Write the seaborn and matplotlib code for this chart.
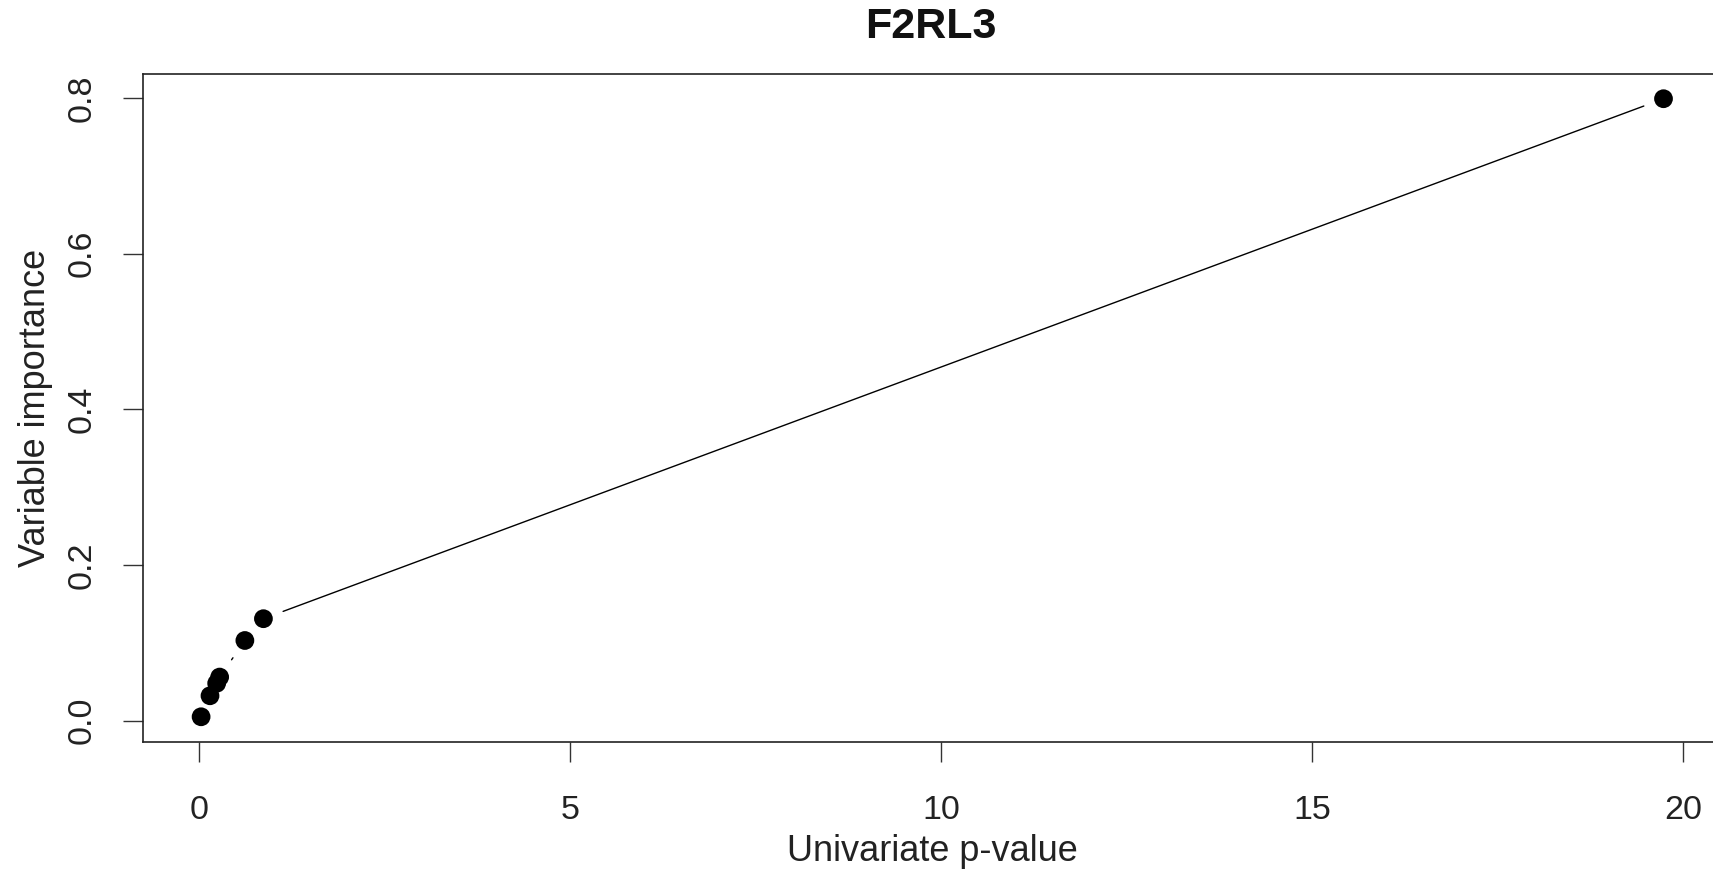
import numpy as np
import pandas as pd
import matplotlib
matplotlib.use("Agg")
import matplotlib.pyplot as plt
import seaborn as sns

# Variable importance against univariate p-value for F2RL3
pvalue = [0.03, 0.15, 0.24, 0.28, 0.62, 0.87, 19.74]
importance = [0.005, 0.032, 0.048, 0.056, 0.103, 0.131, 0.799]
x_ticks = [0, 5, 10, 15, 20]
y_ticks = [0.0, 0.2, 0.4, 0.6, 0.8]

df = pd.DataFrame({"pvalue": pvalue, "importance": importance})

sns.set_style("ticks")
plt.rcParams["font.family"] = ["Liberation Sans", "DejaVu Sans"]

W, H, DPI = 1713, 871, 100
fig = plt.figure(figsize=(W / DPI, H / DPI), dpi=DPI)
ax = fig.add_axes([142.6 / W, 1 - 741.5 / H, (1722 - 142.6) / W, (741.5 - 74) / H])

# R-style 4% padding around the data range
def padded(v):
    lo, hi = min(v), max(v)
    d = (hi - lo) * 0.04
    return lo - d, hi + d

ax.set_xlim(*padded(pvalue))
ax.set_ylim(*padded(importance))

sns.scatterplot(data=df, x="pvalue", y="importance", ax=ax, color="black",
                s=13.5 ** 2, edgecolor="none", zorder=3, legend=False)

# Connecting segments with a gap around each point (type "b")
gap = 21.0
disp = ax.transData.transform(np.column_stack([pvalue, importance]))
inv = ax.transData.inverted()
for a, b in zip(disp[:-1], disp[1:]):
    d = b - a
    L = np.hypot(*d)
    if L > 2 * gap:
        u = d / L
        p0 = inv.transform(a + u * gap)
        p1 = inv.transform(b - u * gap)
        ax.plot([p0[0], p1[0]], [p0[1], p1[1]], color="black", lw=1.0, zorder=2)

ax.set_xticks(x_ticks)
ax.set_xticklabels([str(t) for t in x_ticks])
ax.set_yticks(y_ticks)
ax.set_yticklabels([f"{t:.1f}" for t in y_ticks])
ax.tick_params(axis="both", length=14.5, width=1.0, color="#333333",
               labelsize=24.5, labelcolor="#222222")
ax.tick_params(axis="x", pad=24)
ax.tick_params(axis="y", pad=18)
for lab in ax.get_yticklabels():
    lab.set_rotation(90)
    lab.set_va("center")

for s in ax.spines.values():
    s.set_color("#222222")
    s.set_linewidth(1.2)

ax.set_xlabel("Univariate p-value", fontsize=26, color="#222222", labelpad=6)
ax.set_ylabel("Variable importance", fontsize=26, color="#222222", labelpad=10)
fig.text(931 / W, 1 - 27 / H, "F2RL3", fontsize=31, fontweight="bold",
         ha="center", va="center", color="#111111")

fig.savefig("out.png", dpi=DPI, facecolor="white")
